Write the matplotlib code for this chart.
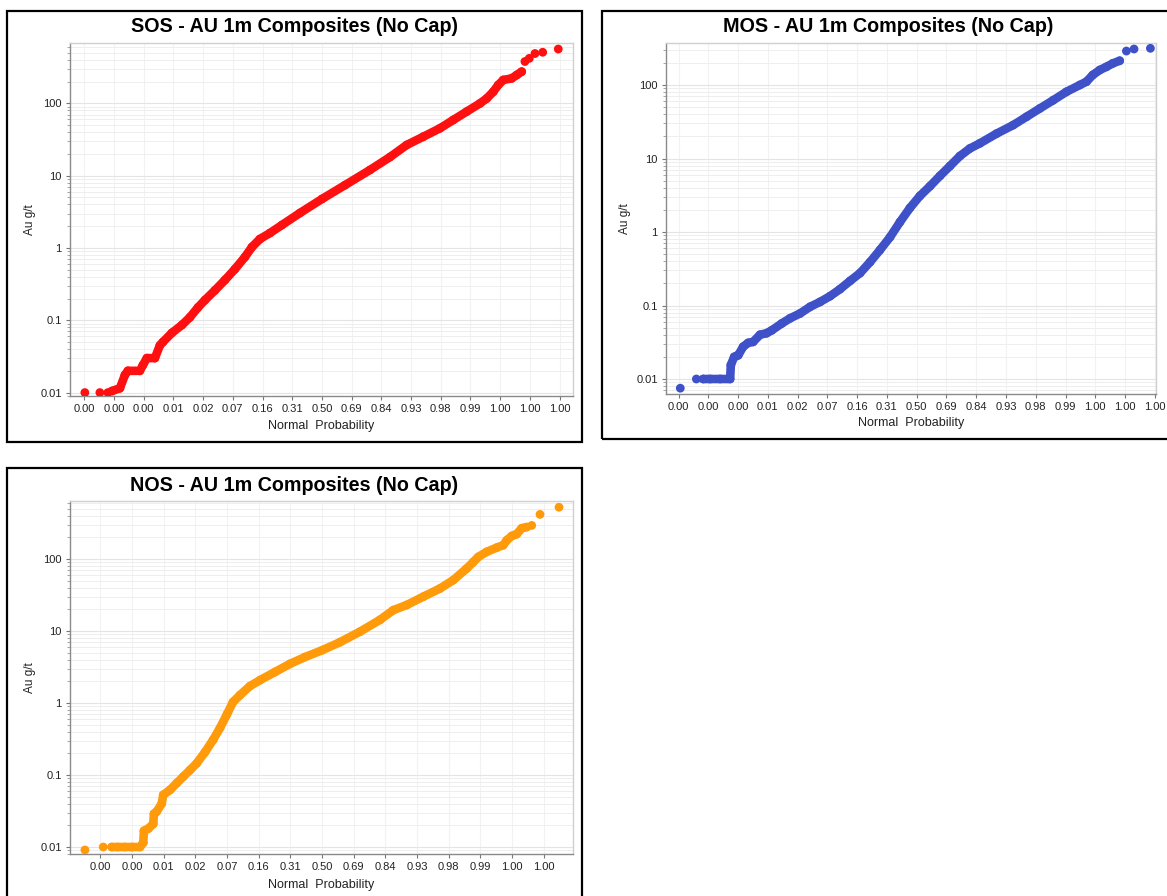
import matplotlib
matplotlib.use("Agg")
import matplotlib.pyplot as plt
from matplotlib.patches import Rectangle
from matplotlib.ticker import FixedLocator, LogLocator, NullFormatter

plt.rcParams['font.family'] = ['Liberation Sans', 'DejaVu Sans']

W, H = 1167, 896

# ---------------- data (normal score z, Au g/t) ----------------
sos_z = [-3.99, -3.737, -3.603, -3.535, -3.40, -3.316, -3.266, -3.064, -3.013, -2.946, -2.811,
         -2.727, -2.677, -2.525, -2.357, -2.222, -2.088, -1.97, -1.80, -1.633, -1.465, -1.296,
         -1.178, -1.044, -0.875, -0.673, -0.37, 0.0, 0.387, 0.808, 1.145, 1.426, 1.705, 1.987,
         2.21, 2.436, 2.66, 2.773, 2.884, 2.968, 3.052, 3.194, 3.278, 3.362, 3.417, 3.49, 3.586,
         3.716, 3.978]
sos_au = [0.01, 0.01, 0.01, 0.0105, 0.0115, 0.0175, 0.02, 0.02, 0.024, 0.03, 0.03,
          0.045, 0.05, 0.067, 0.086, 0.11, 0.15, 0.19, 0.26, 0.36, 0.51, 0.75,
          1.03, 1.33, 1.61, 2.08, 3.05, 4.76, 7.4, 12.0, 18.1, 26.6, 34.6, 45.3,
          59, 77, 100, 117, 145, 180, 211, 222, 247, 275, 380, 420, 490,
          510, 565]
sos_dense = (3, 43)

mos_z = [-3.97, -3.70, -3.586, -3.468, -3.30, -3.133, -3.121, -3.065, -2.998, -2.914, -2.83,
         -2.747, -2.63, -2.52, -2.433, -2.265, -2.126, -1.958, -1.79, -1.622, -1.455, -1.287,
         -1.119, -0.951, -0.783, -0.616, -0.448, -0.280, -0.112, 0.055, 0.223, 0.391, 0.559,
         0.726, 0.894, 1.062, 1.342, 1.621, 1.846, 2.069, 2.292, 2.517, 2.74, 2.852, 2.958,
         3.075, 3.188, 3.294, 3.41, 3.523, 3.651, 3.926]
mos_au = [0.0075, 0.01, 0.01, 0.01, 0.01, 0.01, 0.0155, 0.02, 0.021, 0.0275, 0.031,
          0.032, 0.040, 0.042, 0.046, 0.057, 0.067, 0.078, 0.096, 0.112, 0.134, 0.167,
          0.216, 0.276, 0.39, 0.57, 0.85, 1.37, 2.13, 3.1, 4.2, 5.8, 7.9,
          10.8, 13.7, 16.1, 21.8, 28.5, 37.0, 48.0, 62, 81, 100, 111, 137,
          160, 177, 197, 214, 290, 309, 316]
mos_dense = (2, 48)

nos_z = [-3.744, -3.455, -3.322, -3.223, -3.112, -3.0, -2.875, -2.823, -2.812, -2.744, -2.665,
         -2.654, -2.611, -2.532, -2.507, -2.401, -2.295, -2.191, -2.085, -1.98, -1.848, -1.722,
         -1.611, -1.50, -1.406, -1.295, -1.137, -0.979, -0.742, -0.506, -0.269, 0.0, 0.284,
         0.60, 0.916, 1.126, 1.338, 1.60, 1.864, 2.074, 2.286, 2.39, 2.469, 2.602, 2.76,
         2.864, 2.918, 2.997, 3.076, 3.155, 3.234, 3.313, 3.444, 3.744]
nos_au = [0.0091, 0.01, 0.01, 0.01, 0.01, 0.01, 0.01, 0.0115, 0.0168, 0.018, 0.021,
          0.029, 0.031, 0.040, 0.053, 0.062, 0.077, 0.095, 0.117, 0.145, 0.208, 0.306,
          0.45, 0.70, 1.03, 1.29, 1.72, 2.08, 2.7, 3.5, 4.35, 5.4, 7.0,
          9.8, 14.3, 19.5, 23, 30, 39, 51, 74, 91, 107, 126, 144,
          156, 182, 209, 222, 268, 278, 293, 417, 524]
nos_dense = (2, 50)

ticks_a = [-4, -3.5, -3, -2.5, -2, -1.5, -1, -0.5, 0, 0.5, 1, 1.5, 2, 2.5, 3, 3.5, 4]
labels_a = ["0.00", "0.00", "0.00", "0.01", "0.02", "0.07", "0.16", "0.31", "0.50",
            "0.69", "0.84", "0.93", "0.98", "0.99", "1.00", "1.00", "1.00"]
ticks_b = [-3.5, -3, -2.5, -2, -1.5, -1, -0.5, 0, 0.5, 1, 1.5, 2, 2.5, 3, 3.5]
labels_b = ["0.00", "0.00", "0.01", "0.02", "0.07", "0.16", "0.31", "0.50",
            "0.69", "0.84", "0.93", "0.98", "0.99", "1.00", "1.00"]
y_ticks = [0.01, 0.1, 1, 10, 100]
y_labels = ["0.01", "0.1", "1", "10", "100"]

titles = ["SOS - AU 1m Composites (No Cap)", "MOS - AU 1m Composites (No Cap)",
          "NOS - AU 1m Composites (No Cap)"]

fig = plt.figure(figsize=(W / 100, H / 100), dpi=100)
fig.patch.set_facecolor('white')


def fx(x):
    return x / W


def fy(y):
    return 1 - y / H


def panel(frame, axbox, title, title_y, xl_y, yl_x, z, au, dense, color, xlim, ylim, ticks, labels):
    fl, ft, fr, fb = frame
    fig.add_artist(Rectangle((fx(fl), fy(fb)), fx(fr - fl), (fb - ft) / H,
                             transform=fig.transFigure, fill=False, edgecolor='black',
                             linewidth=1.6, zorder=10))
    l, t, r, b = axbox
    ax = fig.add_axes([fx(l), fy(b), fx(r - l), (b - t) / H])
    ax.set_yscale('log')
    ax.set_xlim(*xlim)
    ax.set_ylim(*ylim)
    ax.xaxis.set_major_locator(FixedLocator(ticks))
    ax.set_xticklabels(labels)
    ax.set_yticks(y_ticks)
    ax.set_yticklabels(y_labels)
    ax.yaxis.set_minor_locator(LogLocator(base=10, subs=range(2, 10)))
    ax.yaxis.set_minor_formatter(NullFormatter())
    ax.tick_params(axis='both', which='major', labelsize=8, colors='#777777',
                   labelcolor='#222222', length=3, width=0.8, pad=3)
    ax.tick_params(axis='y', which='minor', length=2, width=0.6, colors='#999999')
    ax.grid(True, which='major', axis='y', color='#e4e4e4', linewidth=0.8)
    ax.grid(True, which='minor', axis='y', color='#eeeeee', linewidth=0.7)
    ax.grid(True, which='major', axis='x', color='#f2f2f2', linewidth=0.8)
    ax.set_axisbelow(True)
    for s in ['left', 'bottom']:
        ax.spines[s].set_color('#8a8a8a')
        ax.spines[s].set_linewidth(1.0)
    for s in ['top', 'right']:
        ax.spines[s].set_color('#d0d0d0')
        ax.spines[s].set_linewidth(1.0)
    i0, i1 = dense
    ax.plot(z[i0:i1 + 1], au[i0:i1 + 1], color=color, linewidth=6.2,
            solid_capstyle='round', solid_joinstyle='round', zorder=3)
    ax.scatter(z, au, s=40, color=color, edgecolors='none', zorder=4)
    cx = (fl + fr) / 2
    fig.text(fx(cx), fy(title_y), title, ha='center', va='center', fontsize=14.2,
             fontweight='bold', color='black')
    fig.text(fx((l + r) / 2), fy(xl_y), "Normal  Probability", ha='center', va='center',
             fontsize=9, color='#222222')
    fig.text(fx(yl_x), fy((t + b) / 2), "Au g/t", ha='center', va='center', rotation=90,
             fontsize=8.5, color='#222222')
    return ax


panel((7, 11, 582, 442), (70, 43, 573, 396), titles[0], 27, 426, 30,
      sos_z, sos_au, sos_dense, '#ff1010', (-4.24, 4.226), (0.00897, 685), ticks_a, labels_a)
panel((602, 11, 1174, 439.5), (666, 43, 1156, 394), titles[1], 27, 423, 625,
      mos_z, mos_au, mos_dense, '#3f51c9', (-4.21, 4.02), (0.00625, 373), ticks_a, labels_a)
panel((7, 468, 582, 905), (70, 501, 573, 854), titles[2], 485, 885, 30,
      nos_z, nos_au, nos_dense, '#ff9a0a', (-3.98, 3.965), (0.008, 640), ticks_b, labels_b)

fig.savefig('out.png', dpi=100, facecolor='white')
